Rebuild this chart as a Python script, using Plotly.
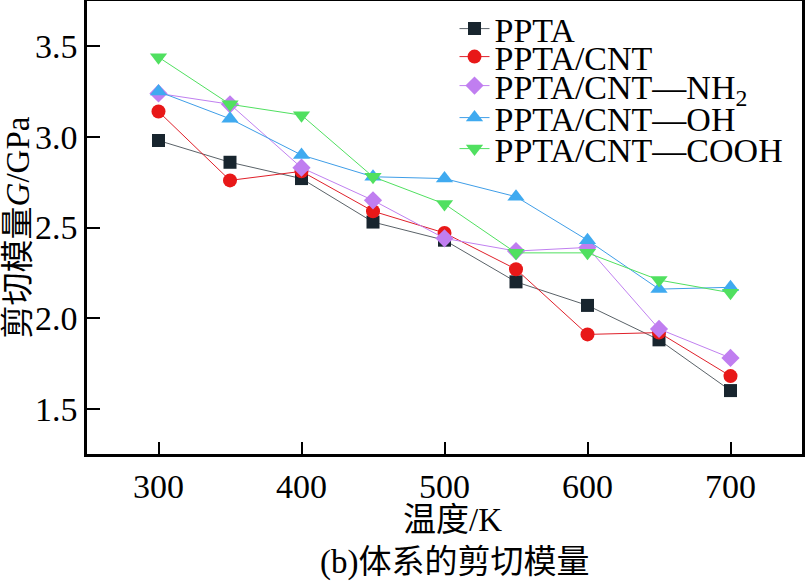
import plotly.graph_objects as go

temps = [300, 350, 400, 450, 500, 550, 600, 650, 700]
ppta = [2.98, 2.86, 2.77, 2.53, 2.43, 2.20, 2.07, 1.88, 1.60]
ppta_cnt = [3.14, 2.76, 2.81, 2.59, 2.47, 2.27, 1.91, 1.92, 1.68]
ppta_nh2 = [3.24, 3.18, 2.83, 2.65, 2.44, 2.37, 2.39, 1.94, 1.78]
ppta_oh = [3.25, 3.10, 2.90, 2.78, 2.77, 2.67, 2.43, 2.16, 2.17]
ppta_cooh = [3.44, 3.18, 3.12, 2.78, 2.63, 2.36, 2.36, 2.21, 2.14]

names = ["PPTA", "PPTA/CNT", "PPTA/CNT—NH<sub>2</sub>", "PPTA/CNT—OH", "PPTA/CNT—COOH"]
series = [ppta, ppta_cnt, ppta_nh2, ppta_oh, ppta_cooh]
symbols = ["square", "circle", "diamond", "triangle-up", "triangle-down"]
line_colors = ["#5a6268", "#e0202a", "#c080f0", "#3f9ee8", "#50e060"]
marker_colors = ["#18252e", "#e81818", "#c07ef0", "#3faaf0", "#50e060"]
marker_sizes = [13, 14, 14, 15, 15]

FONT = "Liberation Serif, Times New Roman, Noto Sans CJK SC, serif"

fig = go.Figure()
for i, (nm, ys) in enumerate(zip(names, series)):
    fig.add_trace(go.Scatter(
        x=temps, y=ys, name=nm, mode="lines+markers",
        line=dict(color=line_colors[i], width=1),
        marker=dict(symbol=symbols[i], size=marker_sizes[i], color=marker_colors[i],
                    line=dict(width=0)),
        legend="legend" if i == 0 else f"legend{i+1}",
    ))

leg_common = dict(font=dict(family=FONT, size=34, color="black"), bgcolor="rgba(0,0,0,0)",
                  borderwidth=0, xanchor="left", yanchor="middle", x=0.514,
                  itemwidth=30, tracegroupgap=0)
leg_y = [29, 57, 86, 118, 149]
layout_legends = {}
for i, yp in enumerate(leg_y):
    key = "legend" if i == 0 else f"legend{i+1}"
    d = dict(leg_common)
    d["y"] = 1 - (yp - 1) / 453
    layout_legends[key] = d

fig.update_layout(
    width=808, height=581,
    margin=dict(l=87, r=6, t=1, b=127, autoexpand=False),
    paper_bgcolor="white", plot_bgcolor="white",
    font=dict(family=FONT, size=34, color="black"),
    showlegend=True,
    xaxis=dict(range=[250, 750], tickvals=[300, 400, 500, 600, 700],
               ticks="inside", ticklen=12, tickwidth=2, tickcolor="black",
               showline=True, linewidth=2.5, linecolor="black", mirror=True,
               showgrid=False, zeroline=False, automargin=False,
               tickfont=dict(family=FONT, size=34, color="black")),
    yaxis=dict(range=[1.25, 3.75], tickvals=[1.5, 2.0, 2.5, 3.0, 3.5],
               ticktext=["1.5", "2.0", "2.5", "3.0", "3.5"],
               ticks="inside", ticklen=13, tickwidth=2, tickcolor="black",
               showline=True, linewidth=2.5, linecolor="black", mirror=True,
               showgrid=False, zeroline=False, automargin=False,
               tickfont=dict(family=FONT, size=34, color="black"),
               title=dict(text="剪切模量<i>G</i>/GPa", standoff=0,
                          font=dict(family=FONT, size=33, color="black"))),
    annotations=[
        dict(text="温度/K", xref="paper", yref="paper", x=(452 - 87) / 715, y=-(520 - 454) / 453,
             xanchor="center", yanchor="middle", showarrow=False,
             font=dict(family=FONT, size=33, color="black")),
        dict(text="(b)体系的剪切模量", xref="paper", yref="paper", x=(455 - 87) / 715, y=-(562 - 454) / 453,
             xanchor="center", yanchor="middle", showarrow=False,
             font=dict(family=FONT, size=33, color="black")),
    ],
    **layout_legends,
)

fig.write_html("out.html", config={"displayModeBar": False},
               post_script="document.body.style.margin='0';document.body.style.overflow='hidden';")
